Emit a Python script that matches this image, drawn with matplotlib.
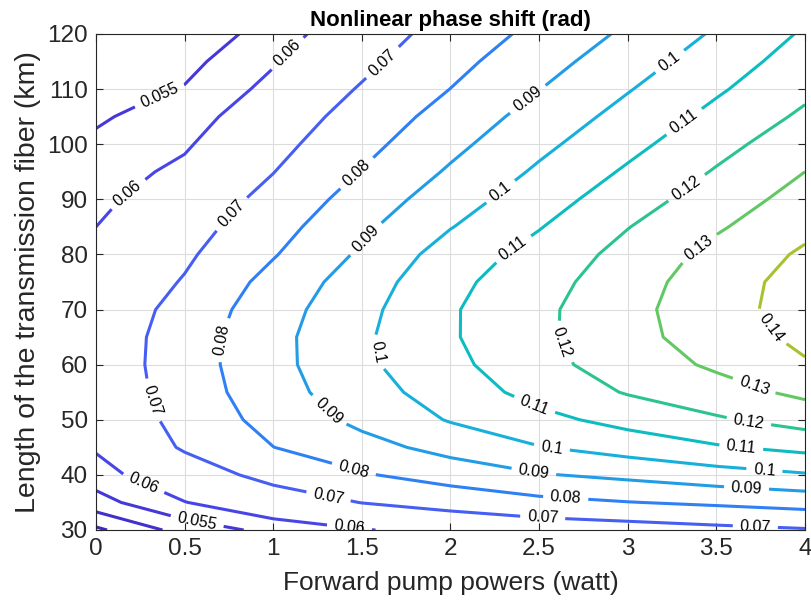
import numpy as np
import matplotlib
matplotlib.use("Agg")
import matplotlib.pyplot as plt

plt.rcParams["font.family"] = ["Liberation Sans", "DejaVu Sans"]

# Forward pump power (W) and fiber length (km) sampling
pump_power = [0.0, 0.5, 1.0, 1.5, 2.0, 2.5, 3.0, 3.5, 4.0]
fiber_length = [30, 35, 40, 45, 50, 55, 60, 65, 70, 75, 80, 85, 90, 95, 100, 105, 110, 115, 120]

# Nonlinear phase shift (rad); one row per fiber length, one column per pump power
phase_30 = [0.0440, 0.0520, 0.0565, 0.0596, 0.0622, 0.0640, 0.0655, 0.0675, 0.0692]
phase_35 = [0.0531, 0.0598, 0.0651, 0.0702, 0.0735, 0.0773, 0.0797, 0.0816, 0.0837]
phase_40 = [0.0575, 0.0653, 0.0729, 0.0791, 0.0843, 0.0893, 0.0923, 0.0959, 0.0991]
phase_45 = [0.0607, 0.0710, 0.0799, 0.0865, 0.0934, 0.0996, 0.1042, 0.1090, 0.1128]
phase_50 = [0.0620, 0.0732, 0.0835, 0.0925, 0.1007, 0.1072, 0.1133, 0.1188, 0.1240]
phase_55 = [0.0630, 0.0747, 0.0858, 0.0960, 0.1045, 0.1135, 0.1207, 0.1262, 0.1322]
phase_60 = [0.0635, 0.0753, 0.0870, 0.0980, 0.1075, 0.1168, 0.1250, 0.1315, 0.1390]
phase_65 = [0.0634, 0.0750, 0.0870, 0.0984, 0.1090, 0.1180, 0.1270, 0.1345, 0.1425]
phase_70 = [0.0628, 0.0735, 0.0857, 0.0972, 0.1090, 0.1178, 0.1272, 0.1358, 0.1445]
phase_75 = [0.0620, 0.0707, 0.0833, 0.0950, 0.1075, 0.1160, 0.1258, 0.1352, 0.1440]
phase_80 = [0.0610, 0.0684, 0.0793, 0.0915, 0.1045, 0.1135, 0.1232, 0.1330, 0.1415]
phase_85 = [0.0600, 0.0660, 0.0761, 0.0880, 0.0996, 0.1095, 0.1197, 0.1288, 0.1375]
phase_90 = [0.0586, 0.0637, 0.0729, 0.0842, 0.0954, 0.1055, 0.1155, 0.1248, 0.1338]
phase_95 = [0.0572, 0.0614, 0.0698, 0.0804, 0.0912, 0.1015, 0.1113, 0.1208, 0.1300]
phase_100 = [0.0558, 0.0592, 0.0670, 0.0770, 0.0874, 0.0976, 0.1072, 0.1168, 0.1259]
phase_105 = [0.0544, 0.0573, 0.0643, 0.0740, 0.0838, 0.0938, 0.1033, 0.1127, 0.1217]
phase_110 = [0.0531, 0.0553, 0.0616, 0.0708, 0.0801, 0.0898, 0.0994, 0.1087, 0.1178]
phase_115 = [0.0519, 0.0535, 0.0595, 0.0677, 0.0770, 0.0862, 0.0955, 0.1050, 0.1145]
phase_120 = [0.0508, 0.0518, 0.0570, 0.0648, 0.0740, 0.0826, 0.0917, 0.1012, 0.1112]

levels = [0.045, 0.05, 0.055, 0.06, 0.07, 0.08, 0.09, 0.1, 0.11, 0.12, 0.13, 0.14]
x_ticks = [0, 0.5, 1, 1.5, 2, 2.5, 3, 3.5, 4]
x_tick_labels = ["0", "0.5", "1", "1.5", "2", "2.5", "3", "3.5", "4"]
y_ticks = [30, 40, 50, 60, 70, 80, 90, 100, 110, 120]

# Line colours along a parula-like ramp, one per level
level_colors = ["#3f2bb8", "#4230cc", "#4638d8", "#4845e6", "#475ef2", "#2f80f5",
                "#239ce6", "#17b0da", "#0cbcc0", "#2cc393", "#62c864", "#a6c32e"]

# Where the inline value labels sit
label_spots = [
    (0.37, 108), (0.57, 31.5),
    (0.20, 90.2), (1.10, 115.8), (0.26, 37.8), (1.43, 30.5),
    (0.77, 87.2), (1.62, 114.7), (0.29, 53.2), (1.31, 35.8), (2.52, 32.2), (3.72, 30.7),
    (1.47, 94.8), (0.74, 64.5), (1.45, 40.5), (2.65, 35.8),
    (2.44, 108), (1.51, 83.2), (1.30, 51.2), (2.47, 40.5), (3.67, 37.6),
    (2.29, 91.1), (3.24, 114.9), (1.57, 62.1), (2.57, 44.5), (3.77, 40.5),
    (3.32, 104), (2.37, 80.3), (2.47, 52.4), (3.64, 44.9),
    (3.33, 92.2), (2.62, 63.9), (3.68, 49.0),
    (3.41, 80.8), (3.70, 55.0),
    (3.79, 66.3),
]

phase = np.array([phase_30, phase_35, phase_40, phase_45, phase_50, phase_55, phase_60,
                  phase_65, phase_70, phase_75, phase_80, phase_85, phase_90, phase_95,
                  phase_100, phase_105, phase_110, phase_115, phase_120])

fig = plt.figure(figsize=(8.12, 6.10), dpi=100)
ax = fig.add_axes([96 / 812, 80 / 610, 709 / 812, 496 / 610])

ax.grid(True, color="#dcdcdc", linewidth=0.8, zorder=0)
ax.set_axisbelow(True)

cs = ax.contour(pump_power, fiber_length, phase, levels=levels,
                colors=level_colors, linewidths=2.2, zorder=2)
ax.clabel(cs, levels=levels, manual=label_spots, inline=True, inline_spacing=7,
          fontsize=11.5, colors="black", fmt=lambda v: f"{v:g}")

ax.set_xlim(0, 4)
ax.set_ylim(30, 120)
ax.set_xticks(x_ticks)
ax.set_xticklabels(x_tick_labels)
ax.set_yticks(y_ticks)
ax.tick_params(direction="in", length=5, width=0.8, colors="#262626",
               labelsize=17.5, top=True, right=True, pad=6)
for side in ax.spines.values():
    side.set_color("#262626")
    side.set_linewidth(0.8)

ax.set_xlabel("Forward pump powers (watt)", fontsize=19, color="#262626", labelpad=8)
ax.set_ylabel("Length of the transmission fiber (km)", fontsize=20.5, color="#262626", labelpad=4)
ax.set_title("Nonlinear phase shift (rad)", fontsize=16, fontweight="bold", pad=6)

fig.savefig("out.png", dpi=100)
